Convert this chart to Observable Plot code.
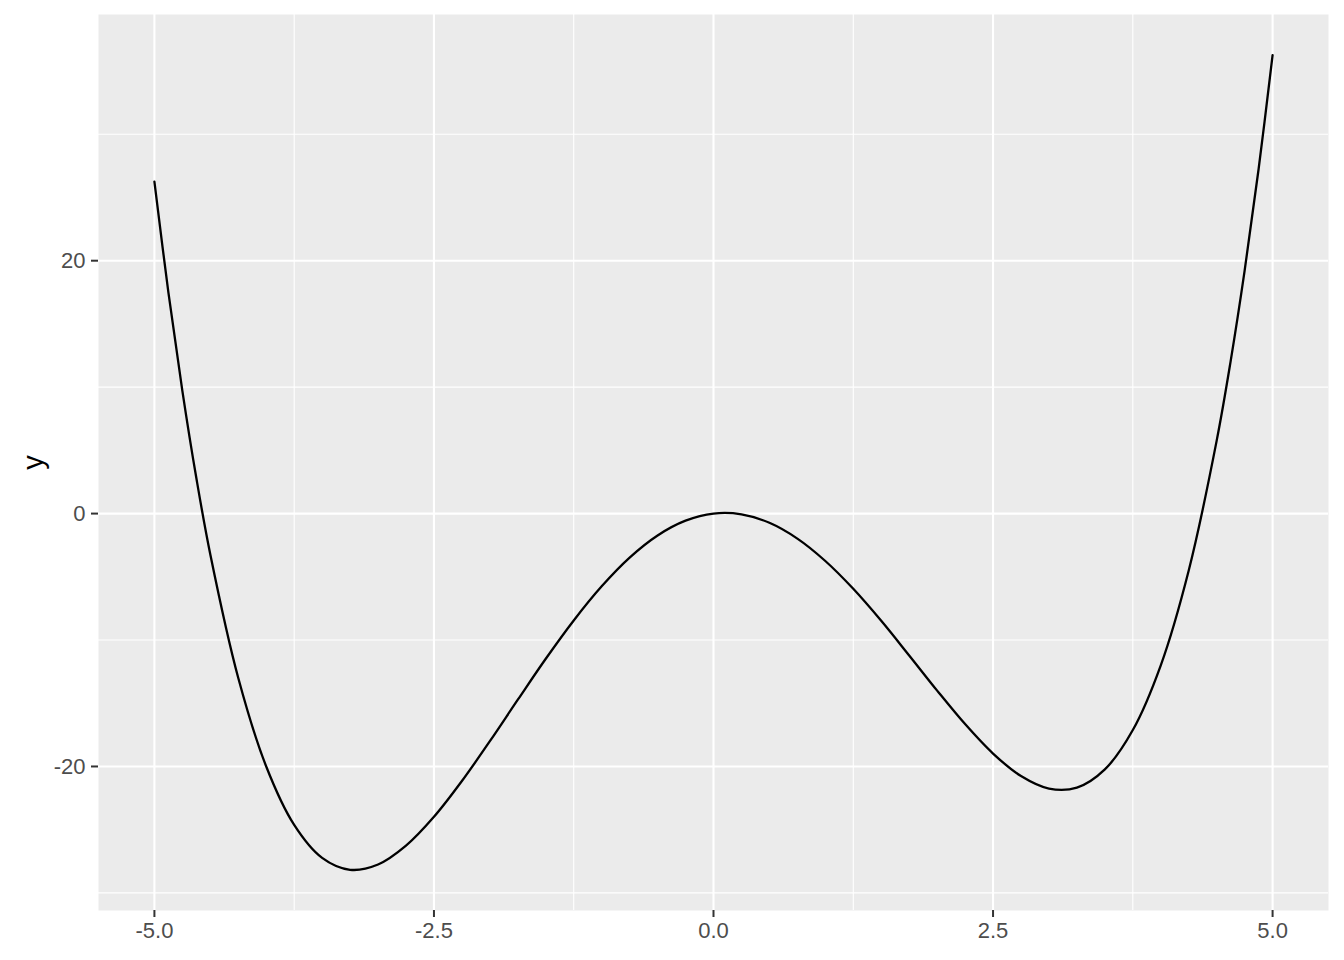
<!DOCTYPE html>
<html>
<head>
<meta charset="utf-8">
<script src="https://cdn.jsdelivr.net/npm/d3@7"></script>
<script src="https://cdn.jsdelivr.net/npm/@observablehq/plot@0.6"></script>
<style>
  html, body { margin: 0; padding: 0; background: #ffffff; }
  #chart svg { display: block; }
</style>
</head>
<body>
<div id="chart"></div>
<script>
// Curve values
const xs = [-5.0, -4.875, -4.75, -4.625, -4.5, -4.25, -4.0, -3.75, -3.5, -3.25,
  -3.0, -2.75, -2.5, -2.25, -2.0, -1.75, -1.5, -1.25, -1.0, -0.75,
  -0.5, -0.25, 0.0, 0.25, 0.5, 0.75, 1.0, 1.25, 1.5, 1.75,
  2.0, 2.25, 2.5, 2.75, 3.0, 3.25, 3.5, 3.75, 4.0, 4.25,
  4.5, 4.625, 4.75, 4.875, 5.0];
const ys = [26.25, 17.5, 9.71, 2.81, -3.23, -13.0, -20.0, -24.62, -27.23, -28.17,
  -27.75, -26.26, -23.98, -21.15, -18.0, -14.72, -11.48, -8.45, -5.75, -3.48,
  -1.73, -0.56, 0.0, -0.06, -0.73, -1.98, -3.75, -5.95, -8.48, -11.22,
  -14.0, -16.65, -18.98, -20.76, -21.75, -21.67, -20.23, -17.12, -12.0, -4.5,
  5.77, 12.06, 19.21, 27.25, 36.25];

const xTicks = [-5, -2.5, 0, 2.5, 5];
const xMinor = [-3.75, -1.25, 1.25, 3.75];
const yTicks = [-20, 0, 20];
const yMinor = [-30, -10, 10, 30];
const yTitle = "y";

const data = xs.map((x, i) => ({x, y: ys[i]}));

// ggplot-style 5% expansion of the data range
const xExt = d3.extent(xs), yExt = d3.extent(ys);
const xPad = (xExt[1] - xExt[0]) * 0.05, yPad = (yExt[1] - yExt[0]) * 0.05;

const font = "'Liberation Sans', Arial, Helvetica, sans-serif";

const chart = Plot.plot({
  width: 1344,
  height: 960,
  marginLeft: 98,
  marginRight: 16,
  marginTop: 14,
  marginBottom: 50,
  style: {background: "#ffffff", fontFamily: font, overflow: "visible"},
  x: {domain: [xExt[0] - xPad, xExt[1] + xPad], label: null},
  y: {domain: [yExt[0] - yPad, yExt[1] + yPad], label: null},
  marks: [
    Plot.frame({fill: "#EBEBEB", stroke: null}),
    Plot.gridX({ticks: xMinor, stroke: "#ffffff", strokeOpacity: 1, strokeWidth: 1.1}),
    Plot.gridY({ticks: yMinor, stroke: "#ffffff", strokeOpacity: 1, strokeWidth: 1.1}),
    Plot.gridX({ticks: xTicks, stroke: "#ffffff", strokeOpacity: 1, strokeWidth: 2.1}),
    Plot.gridY({ticks: yTicks, stroke: "#ffffff", strokeOpacity: 1, strokeWidth: 2.1}),
    Plot.line(data, {x: "x", y: "y", curve: "catmull-rom", stroke: "#000000", strokeWidth: 2.3}),
    Plot.axisX({ticks: xTicks, tickFormat: d => d.toFixed(1), tickSize: 7, tickPadding: 5,
      fontSize: 22, fill: "#4D4D4D", stroke: "#333333", strokeWidth: 2, label: null}),
    Plot.axisY({ticks: yTicks, tickFormat: d => String(d), tickSize: 7, tickPadding: 6,
      fontSize: 22, fill: "#4D4D4D", stroke: "#333333", strokeWidth: 2, label: null}),
    Plot.text([yTitle], {frameAnchor: "left", text: d => d, dx: -65, rotate: -90,
      fontSize: 29, fill: "#000000", textAnchor: "middle", lineAnchor: "middle"})
  ]
});
document.getElementById("chart").appendChild(chart);
</script>
</body>
</html>
